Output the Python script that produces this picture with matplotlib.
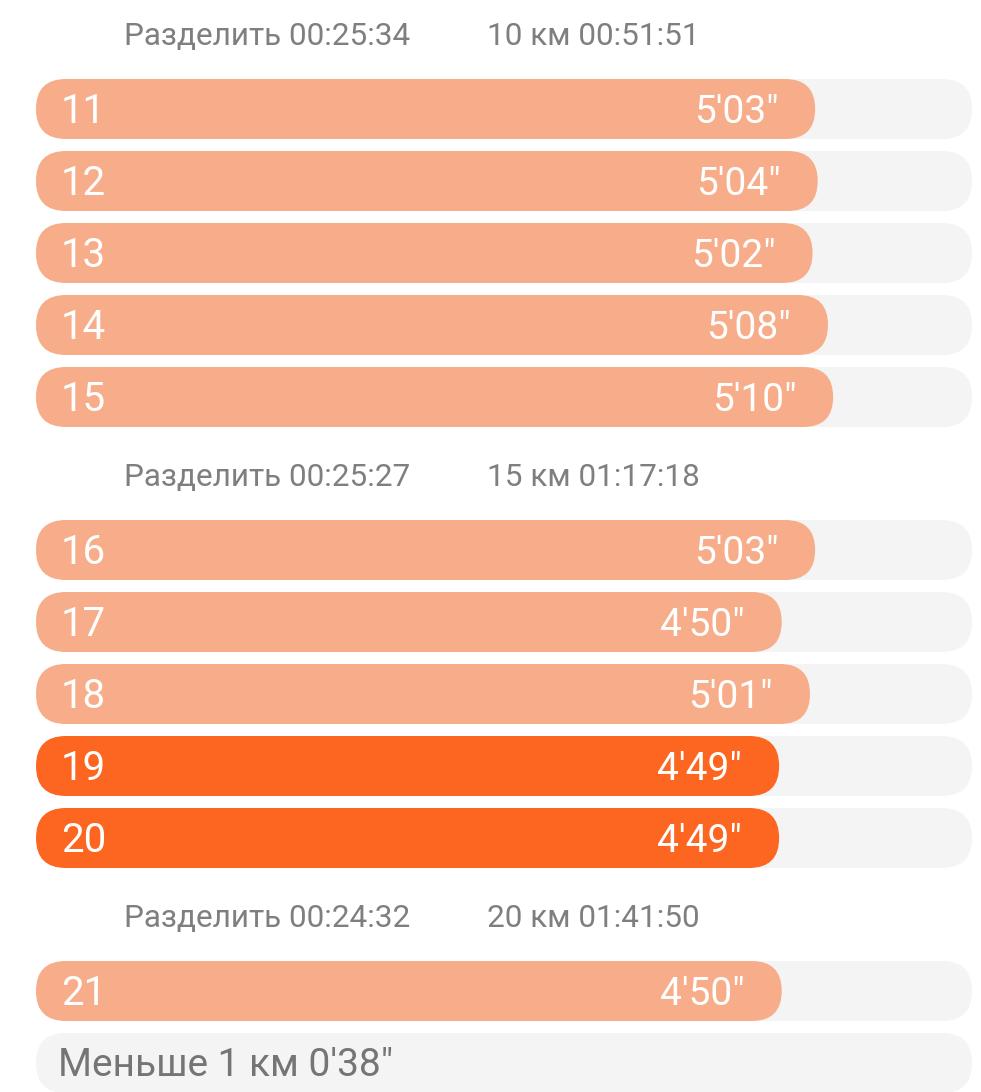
import matplotlib
matplotlib.use("Agg")
import matplotlib.pyplot as plt
from matplotlib.patches import FancyBboxPatch

plt.rcParams['font.family'] = ['Roboto', 'DejaVu Sans']

# ---- data ----
km_labels = ["11", "12", "13", "14", "15", "16", "17", "18", "19", "20", "21"]
pace_sec = [303, 304, 302, 308, 310, 303, 290, 301, 289, 289, 290]
pace_labels = ["5'03\"", "5'04\"", "5'02\"", "5'08\"", "5'10\"",
               "5'03\"", "4'50\"", "5'01\"", "4'49\"", "4'49\"", "4'50\""]
fastest = [False, False, False, False, False, False, False, False, True, True, False]
split_labels = ["Разделить 00:25:34", "Разделить 00:25:27", "Разделить 00:24:32"]
total_labels = ["10 км 00:51:51", "15 км 01:17:18", "20 км 01:41:50"]
remainder_label = "Меньше 1 км 0'38\""
track_max = 364

# ---- styling ----
W, H, DPI = 981, 1092, 100
LIGHT = "#F8AD8A"
DARK = "#FC6621"
TRACK = "#F4F4F4"
GRAY = "#7F7F7F"

fig = plt.figure(figsize=(W / DPI, H / DPI), dpi=DPI)
left_px, right_px = 36, 972
ax = fig.add_axes([left_px / W, 0, (right_px - left_px) / W, 1])
ax.set_xlim(0, track_max)
ax.set_ylim(H, 0)
ax.axis("off")

px_per_sec = (right_px - left_px) / track_max
bar_h = 60
r_px = bar_h / 2
r_x = r_px / px_per_sec
aspect = r_px / r_x


def pill(x0, x1, top, color):
    p = FancyBboxPatch((x0, top), x1 - x0, bar_h,
                       boxstyle=f"round,pad=0,rounding_size={r_x}",
                       mutation_aspect=aspect, linewidth=0, facecolor=color,
                       clip_on=False)
    ax.add_patch(p)


first_top = 79
pitch = 72
group_step = 153
header_offset = 34  # header baseline above bar start (px)

rows_per_group = 5
top = first_top
for i in range(len(km_labels)):
    g = i // rows_per_group
    if i % rows_per_group == 0:
        hb = top - header_offset
        ax.annotate(split_labels[g], xy=(0, hb), xytext=(124 - left_px, 0),
                    textcoords="offset pixels", fontsize=22.7, color=GRAY,
                    ha="left", va="baseline")
        ax.annotate(total_labels[g], xy=(0, hb), xytext=(487 - left_px, 0),
                    textcoords="offset pixels", fontsize=22.7, color=GRAY,
                    ha="left", va="baseline")
    pill(0, track_max, top, TRACK)
    pill(0, pace_sec[i], top, DARK if fastest[i] else LIGHT)
    base = top + 44
    ax.annotate(km_labels[i], xy=(0, base), xytext=(25, 0),
                textcoords="offset pixels", fontsize=29, color="white",
                ha="left", va="baseline")
    ax.annotate(pace_labels[i], xy=(pace_sec[i], base), xytext=(-37, 0),
                textcoords="offset pixels", fontsize=28, color="white",
                ha="right", va="baseline")
    if i % rows_per_group == rows_per_group - 1:
        top += group_step
    else:
        top += pitch

# remainder row
pill(0, track_max, top, TRACK)
ax.annotate(remainder_label, xy=(0, top + 43), xytext=(22, 0),
            textcoords="offset pixels", fontsize=28, color="#757575",
            ha="left", va="baseline")

fig.savefig("out.png", dpi=DPI, facecolor="white")
